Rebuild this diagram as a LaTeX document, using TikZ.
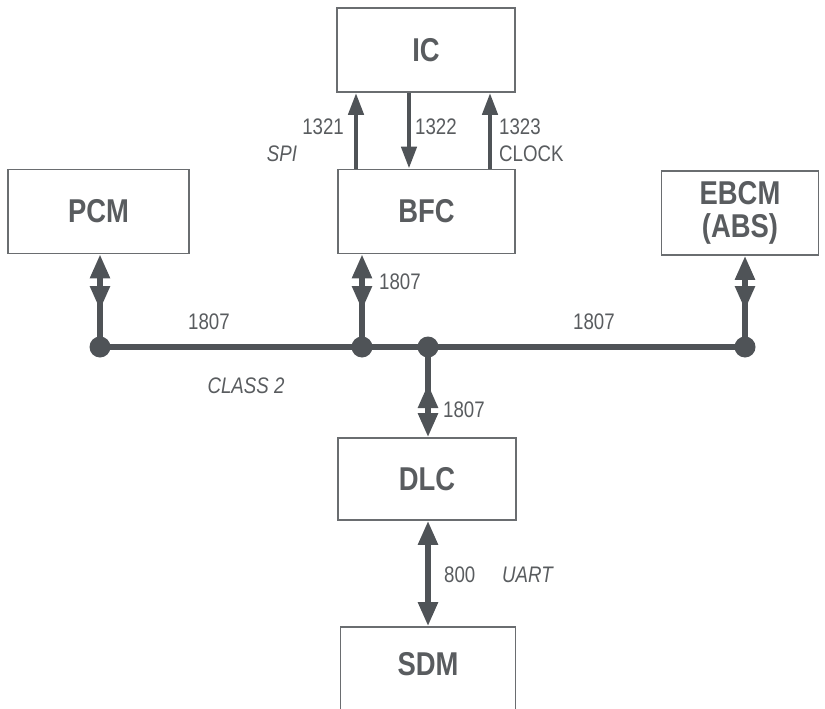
\documentclass[tikz,border=0pt]{standalone}
\usepackage{fontspec}
\setmainfont{Liberation Sans}[FakeStretch=0.83]
\usetikzlibrary{arrows.meta,decorations.markings}
\definecolor{ink}{HTML}{4F5357}
\definecolor{txt}{HTML}{595C5F}
\definecolor{boxc}{HTML}{6A6D70}
\tikzset{
  box/.style={draw=boxc,line width=1.8pt,fill=white,minimum width=#1,minimum height=84pt,inner sep=0pt,
    font=\fontsize{33}{33}\selectfont\bfseries,text=txt,align=center},
  lab/.style={font=\fontsize{22.5}{22.5}\selectfont,text=txt,inner sep=0pt},
  ilab/.style={font=\fontsize{22.5}{22.5}\selectfont\itshape,text=txt,inner sep=0pt},
  bus/.style={draw=ink,line width=6pt},
  dot/.style={circle,fill=ink,minimum size=21pt,inner sep=0pt},
  bidir/.style={draw=ink,line width=5.5pt,-{Triangle[length=24pt,width=19pt]},
    decoration={markings,mark=at position 37pt with {\arrowreversed{Triangle[length=24pt,width=19pt]}}},postaction={decorate}},
  sig/.style={draw=ink,line width=4.5pt,-{Triangle[length=22pt,width=15pt]}},
}
\begin{document}
\begin{tikzpicture}[x=1pt,y=-1pt]
\useasboundingbox (0,0) rectangle (825,709);
% boxes
\node[box=178pt] (ic) at (426,50) {IC};
\node[box=177pt] (bfc) at (426.5,211.5) {BFC};
\node[box=181pt] (pcm) at (98.5,211.5) {PCM};
\node[box=157pt] (ebcm) at (740,213) {EBCM\\(ABS)};
\node[box=178pt,minimum height=82pt] (dlc) at (427,479) {DLC};
\node[box=175pt,minimum height=90pt] (sdm) at (428,672) {};
\node[font=\fontsize{33}{33}\selectfont\bfseries,text=txt] (sdmt) at (428,664) {SDM};
% bus dots
\node[dot] (d1) at (100,347) {};
\node[dot] (d2) at (362,347) {};
\node[dot] (d3) at (428,347) {};
\node[dot] (d4) at (745,347) {};
\draw[bus] (d1.center) -- (d4.center);
% vertical bus links
\draw[bidir] (d1.center) -- (pcm.south -| d1);
\draw[bidir] (d2.center) -- (bfc.south -| d2);
\draw[bidir] (d4.center) -- (ebcm.south -| d4);
\draw[bidir] (d3.center) -- (dlc.north -| d3);
% DLC - SDM
\draw[draw=ink,line width=5.5pt,{Triangle[length=24pt,width=19pt]}-{Triangle[length=24pt,width=19pt]}] (dlc.south -| d3) -- (sdm.north -| d3);
% IC - BFC signals
\coordinate (a1) at (356,0);
\coordinate (a2) at (409,0);
\coordinate (a3) at (490,0);
\draw[sig] (bfc.north -| a1) -- (ic.south -| a1);
\draw[sig] (ic.south -| a2) -- (bfc.north -| a2);
\draw[sig] (bfc.north -| a3) -- (ic.south -| a3);
% labels
\node[lab,anchor=east] (l1321) at (344,127) {1321};
\node[ilab] (spi) at (282,154) {SPI};
\node[lab,anchor=west] (l1322) at (415,127) {1322};
\node[lab,anchor=west] (l1323) at (499,127) {1323};
\node[lab,anchor=west] (clk) at (499,154) {CLOCK};
\node[lab] (b1) at (209,322) {1807};
\node[lab,anchor=west] (b2) at (379,282) {1807};
\node[lab] (b3) at (594,322) {1807};
\node[ilab] (cls) at (246,386) {CLASS 2};
\node[lab,anchor=west] (b4) at (443,410) {1807};
\node[lab,anchor=west] (l800) at (444,575) {800};
\node[ilab,anchor=west] (uart) at (502,575) {UART};
\end{tikzpicture}
\end{document}
